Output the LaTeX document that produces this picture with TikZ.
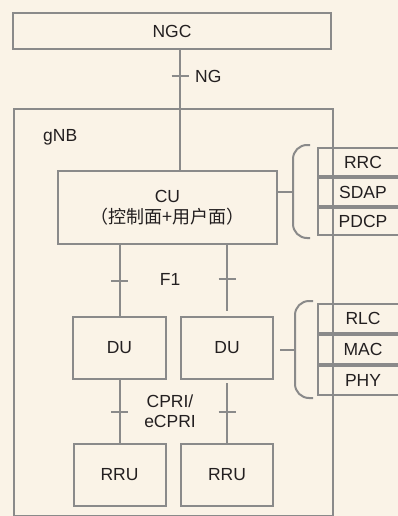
\documentclass[tikz,border=0pt]{standalone}
\usepackage{fontspec}
\setmainfont{Liberation Sans}
\newfontfamily\cjk{Noto Sans CJK SC}
\usetikzlibrary{positioning,calc}
\definecolor{gnbcream}{RGB}{250,243,231}
\definecolor{gnbline}{RGB}{138,138,138}
\definecolor{gnbtext}{RGB}{35,31,32}

\begin{document}
\begin{tikzpicture}[x=1pt, y=-1pt,
  every node/.style={text=gnbtext, font=\fontsize{17.5}{20}\selectfont},
  box/.style={draw=gnbline, line width=2pt, inner sep=0pt, align=center},
  proto/.style={box, minimum width=90pt, anchor=north west},
  link/.style={draw=gnbline, line width=2pt},
  lbl/.style={inner sep=0pt, align=center},
]
\fill[gnbcream] (0,0) rectangle (398,516);
\clip (0,0) rectangle (398,516);

% core and gNB frame
\node[box, minimum width=318pt, minimum height=36pt] (ngc) at (172,31) {NGC};
\node[box, minimum width=319pt, minimum height=407pt, anchor=north west] (gnb) at (13,108) {};
\node[lbl, anchor=west] (gnbl) at (43,137) {gNB};

% CU, DUs, RRUs
\node[box, minimum width=219pt, minimum height=73pt] (cu) at (167.5,207.5)
  {CU\\[1pt]{\cjk\fontsize{18}{20}\selectfont （控制面+用户面）}};
\node[box, minimum width=93pt, minimum height=62pt] (du1) at (119.5,348) {DU};
\node[box, minimum width=92pt, minimum height=62pt, right=13pt of du1] (du2) {DU};
\node[box, minimum width=92pt, minimum height=62pt, below=63pt of du1] (rru1) {RRU};
\node[box, minimum width=92pt, minimum height=62pt, below=63pt of du2] (rru2) {RRU};

% protocol stacks
\node[proto, minimum height=28pt] (rrc) at (317,147) {RRC};
\node[proto, minimum height=28pt, below=0pt of rrc] (sdap) {SDAP};
\node[proto, minimum height=27pt, below=0pt of sdap] (pdcp) {PDCP};
\node[proto, minimum height=29pt] (rlc) at (317,303) {RLC};
\node[proto, minimum height=29pt, below=0pt of rlc] (mac) {MAC};
\node[proto, minimum height=29pt, below=0pt of mac] (phy) {PHY};

% NG
\draw[link] ([xshift=8pt]ngc.south) -- coordinate[pos=0.22] (ngt) ([xshift=8pt]ngc.south |- cu.north);
\draw[link] (ngt) ++(-8.5,0) -- ++(17,0);
\node[lbl, anchor=west] (ng) at ([xshift=15pt]ngt) {NG};

% F1
\draw[link] (du1.north |- cu.south) -- coordinate[midway] (f1l) (du1.north);
\draw[link, shorten >=5pt] (du2.north |- cu.south) -- coordinate[pos=0.48] (f1r) (du2.north);
\draw[link] (f1l) ++(-8.5,0) -- ++(17,0);
\draw[link] (f1r) ++(-8.5,0) -- ++(17,0);
\node[lbl] (f1) at ($(f1l)!0.47!(f1r)$) {F1};

% CPRI
\draw[link] (du1.south) -- coordinate[midway] (cpl) (du1.south |- rru1.north);
\draw[link, shorten <=3pt] (du2.south) -- coordinate[midway] (cpr) (du2.south |- rru2.north);
\draw[link] (cpl) ++(-8.5,0) -- ++(17,0);
\draw[link] (cpr) ++(-8.5,0) -- ++(17,0);
\node[lbl] (cpri) at ($(cpl)!0.47!(cpr)$) {CPRI/\\eCPRI};

% braces to the stacks
\coordinate (cbr) at ($(rrc.north west)!0.5!(pdcp.south west)+(-24,0)$);
\coordinate (dbr) at ($(rlc.north west)!0.5!(phy.south west)+(-22,0)$);
\draw[link, rounded corners=14pt] ([xshift=-7pt,yshift=2pt]rrc.north west) -| (cbr) |- ([xshift=-7pt,yshift=-2pt]pdcp.south west);
\draw[link, rounded corners=14pt] ([xshift=-4pt,yshift=2pt]rlc.north west) -| (dbr) |- ([xshift=-4pt,yshift=-2pt]phy.south west);
\draw[link] (cu.east |- cbr) -- (cbr);
\draw[link, shorten <=6pt] (du2.east |- dbr) -- (dbr);
\end{tikzpicture}
\end{document}
